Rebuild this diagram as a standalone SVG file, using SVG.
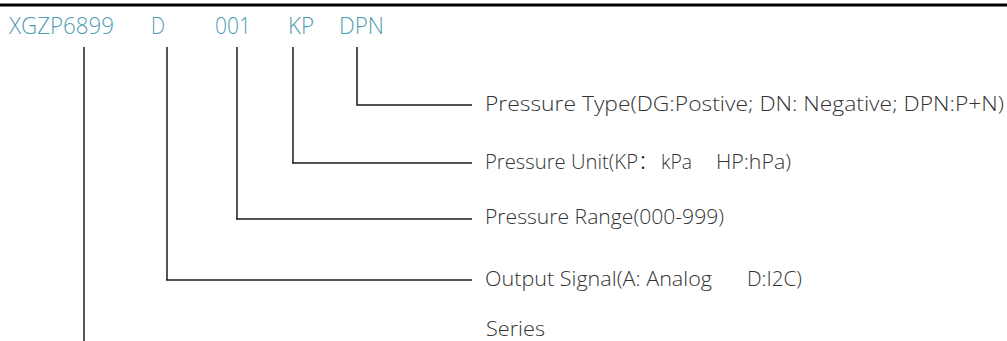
<svg xmlns="http://www.w3.org/2000/svg" width="1007" height="341" viewBox="0 0 1007 341">
<style>
.code{font-family:"Open Sans","Liberation Sans",Arial,sans-serif;font-weight:300;font-size:23px;fill:#4e9db1}
.lbl{font-family:"Open Sans","Liberation Sans",Arial,"Noto Sans CJK SC",sans-serif;font-weight:300;font-size:20px;fill:#333333}
.v{stroke:#555555;stroke-width:2;fill:none}
.h{stroke:#1a1a1a;stroke-width:1.5;fill:none}
</style>
<rect width="1007" height="341" fill="#ffffff"/>
<line x1="0" y1="5" x2="1007" y2="5" stroke="#000000" stroke-width="3"/>
<g id="codes">
<g id="n-series"><text class="code" x="9" y="34" textLength="105" lengthAdjust="spacingAndGlyphs">XGZP6899</text></g>
<g id="n-output"><text class="code" x="151" y="34" textLength="14" lengthAdjust="spacingAndGlyphs">D</text></g>
<g id="n-range"><text class="code" x="215" y="34" textLength="36" lengthAdjust="spacingAndGlyphs">001</text></g>
<g id="n-unit"><text class="code" x="288" y="34" textLength="26" lengthAdjust="spacingAndGlyphs">KP</text></g>
<g id="n-type"><text class="code" x="339" y="34" textLength="45" lengthAdjust="spacingAndGlyphs">DPN</text></g>
</g>
<g id="labels">
<g id="l-type"><text class="lbl" x="485" y="111" textLength="519" lengthAdjust="spacingAndGlyphs">Pressure Type(DG:Postive; DN: Negative; DPN:P+N)</text></g>
<g id="l-unit"><text class="lbl" y="169"><tspan x="485" textLength="153" lengthAdjust="spacingAndGlyphs">Pressure Unit(KP</tspan><tspan x="638">：</tspan><tspan x="661" textLength="31" lengthAdjust="spacingAndGlyphs">kPa</tspan><tspan x="716" textLength="75" lengthAdjust="spacingAndGlyphs">HP:hPa)</tspan></text></g>
<g id="l-range"><text class="lbl" x="485" y="224" textLength="239" lengthAdjust="spacingAndGlyphs">Pressure Range(000-999)</text></g>
<g id="l-output"><text class="lbl" y="286"><tspan x="485" textLength="227" lengthAdjust="spacingAndGlyphs">Output Signal(A: Analog</tspan><tspan x="747" textLength="55" lengthAdjust="spacingAndGlyphs">D:I2C)</tspan></text></g>
<g id="l-series"><text class="lbl" x="486" y="336" textLength="59" lengthAdjust="spacingAndGlyphs">Series</text></g>
</g>
<g id="connectors">
<line class="v" x1="84" y1="47" x2="84" y2="341"/>
<polyline class="v" points="167,47 167,280"/>
<polyline class="h" points="166,280 472,280"/>
<polyline class="v" points="237,47 237,219"/>
<polyline class="h" points="236,219 472,219"/>
<polyline class="v" points="293,47 293,163"/>
<polyline class="h" points="292,163 472,163"/>
<polyline class="h" points="357,47 357,105 472,105"/>
</g>
</svg>
